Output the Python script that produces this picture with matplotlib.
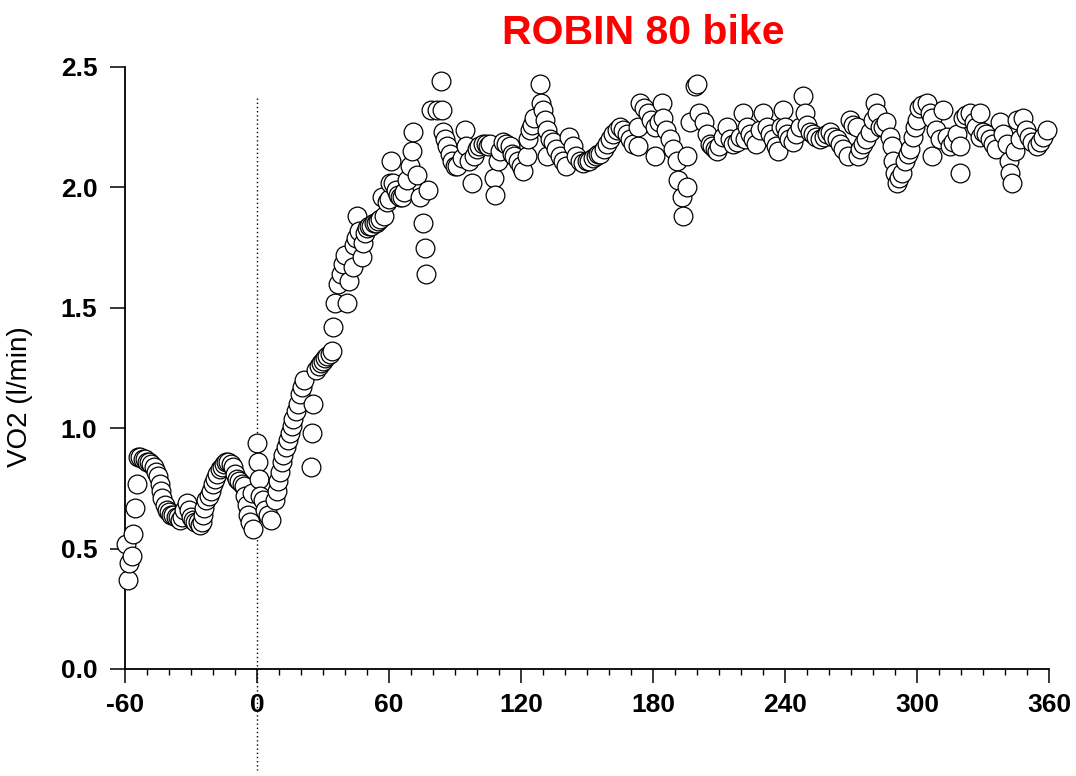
import matplotlib
matplotlib.use('Agg')
import matplotlib.pyplot as plt
from matplotlib.ticker import MultipleLocator

plt.rcParams['font.family'] = ['Liberation Sans', 'DejaVu Sans']
plt.rcParams['axes.unicode_minus'] = False

# breath data: time relative to work onset (s) and VO2 (l/min)
time_s = [
    -59.5, -58.5, -58, -57, -56.5, -55.5, -54.5,
    -54, -53, -52, -51, -50, -49, -48, -47, -46, -45, -44, -43.5, -43, -42,
    -41, -40, -39, -38, -37, -36, -35, -34, -33, -32, -31, -30, -29, -28,
    -27, -26, -25, -24.5, -24, -23, -22, -21, -20, -19, -18, -17, -16, -15,
    -14, -13, -12, -11, -10, -9, -8, -7, -6,
    -5.5, -4.5, -4, -3, -2, -2.3,
    0, 0.3, 0.8, 1.4, 2.5, 3.6, 5, 6.5,
    8, 9, 9.5, 10.5, 11.5, 12, 13, 14, 15, 16, 16.5, 17.5, 18.5, 19.5, 20.5,
    21.5, 24.5, 25, 25.5, 27, 28, 29, 30, 31, 32, 33, 34,
    34.5, 35.5, 37, 38, 39, 40, 41, 42, 43.5, 44, 45, 45.5, 46.5, 47.5, 48,
    49, 50, 51, 52, 53, 54, 55, 56, 56.8, 57.5, 59, 60, 60.5, 61, 62, 63, 64,
    65, 66, 67, 68, 69.5, 70.5, 71, 72.5, 74, 75.5, 76.4, 77, 77.7, 79, 82,
    83.5,
    84, 84.5, 85.5, 86.5, 87.5, 88.5, 90, 91, 93, 94.5, 95, 96.5, 97.7, 98.5,
    100, 101, 102.7, 104, 105, 106, 107.5, 108, 109.5, 110.5, 111.8, 113, 115,
    116, 117, 118.5, 120, 121, 122.7, 123, 124, 125, 126, 128.6, 129, 130,
    131, 131.8, 132, 133, 134.5, 136, 137.5, 139, 140.5, 142, 143.6, 145,
    146.8, 148, 150, 151, 152.7, 154, 155, 156, 157.5, 159,
    160.5, 162, 163.5, 165, 166.5, 168, 169.5, 171, 173, 173, 174, 176, 177.7,
    179, 181, 181, 182.5, 184, 184.5, 186, 187.7, 189, 191, 191.4, 193, 193.6,
    195.5, 195.5, 197, 199, 200, 201, 203, 204.5, 206, 207, 208, 209, 210,
    212, 213.6, 215, 216.4, 218, 219.5, 221, 222, 222.7, 224, 225.5, 227,
    228.5, 230, 231.8, 233, 234.5, 236, 237, 238, 239, 240, 241, 242, 243.5,
    245, 247, 248, 249, 250, 251.5, 252.7, 254, 256, 257.5, 259, 260.5, 262,
    263.6, 265, 266.4, 268.6, 269.5, 271, 272.7, 273, 274, 275.5, 277, 278.5,
    280, 281, 282, 283, 284.5, 286, 287.7, 288.6, 289, 290, 291, 292, 293,
    294.5, 296, 297, 298, 299, 300, 301, 302.5, 304.5, 306, 307, 307, 308.5,
    310.5, 312, 313.5, 315, 316.5, 318, 319.5, 319.5, 321, 322.5, 324, 326,
    327, 328.6, 328.6, 330, 331.5, 333, 334.5, 336, 337.7, 339, 341, 342,
    342.5, 343, 344.5, 345.5, 347, 348, 349.5, 351, 352.5, 354.5, 356, 357.5,
    359,
]
vo2 = [
    0.52, 0.37, 0.44, 0.47, 0.56, 0.67, 0.77,
    0.88, 0.88, 0.87, 0.87, 0.86, 0.86, 0.85, 0.84, 0.82, 0.80, 0.77, 0.74, 0.71, 0.68,
    0.66, 0.65, 0.64, 0.64, 0.63, 0.63, 0.62, 0.63, 0.66, 0.69, 0.66, 0.63, 0.62, 0.61,
    0.61, 0.60, 0.61, 0.64, 0.67, 0.70, 0.72, 0.74, 0.77, 0.79, 0.81, 0.83, 0.84, 0.85,
    0.86, 0.86, 0.85, 0.84, 0.81, 0.79, 0.78, 0.77, 0.76,
    0.72, 0.68, 0.64, 0.61, 0.58, 0.73,
    0.94, 0.86, 0.79, 0.72, 0.70, 0.66, 0.64, 0.62,
    0.70, 0.74, 0.78, 0.82, 0.86, 0.89, 0.92, 0.95, 0.98, 1.01, 1.04, 1.07, 1.10, 1.14, 1.17,
    1.20, 0.84, 0.98, 1.10, 1.24, 1.26, 1.27, 1.28, 1.29, 1.30, 1.31, 1.32,
    1.42, 1.52, 1.60, 1.64, 1.68, 1.72, 1.52, 1.61, 1.67, 1.76, 1.79, 1.88, 1.82, 1.71, 1.77,
    1.81, 1.83, 1.84, 1.84, 1.85, 1.85, 1.86, 1.87, 1.96, 1.88, 1.94, 1.95, 2.02, 2.11, 2.02, 1.99, 1.97,
    1.96, 1.96, 1.98, 2.03, 2.09, 2.15, 2.23, 2.05, 1.96, 1.85, 1.75, 1.64, 1.99, 2.32, 2.32,
    2.44,
    2.32, 2.23, 2.20, 2.17, 2.14, 2.11, 2.09, 2.09, 2.12, 2.24, 2.17, 2.11, 2.02, 2.13,
    2.16, 2.17, 2.18, 2.18, 2.17, 2.18, 2.04, 1.97, 2.11, 2.15, 2.19, 2.18, 2.17,
    2.14, 2.13, 2.11, 2.09, 2.07, 2.13, 2.20, 2.24, 2.26, 2.29, 2.43, 2.35, 2.32,
    2.28, 2.24, 2.13, 2.20, 2.19, 2.16, 2.13, 2.11, 2.09, 2.21, 2.17, 2.13,
    2.11, 2.10, 2.11, 2.11, 2.12, 2.13, 2.14, 2.14, 2.16, 2.18,
    2.20, 2.22, 2.24, 2.25, 2.24, 2.22, 2.20, 2.18, 2.17, 2.25, 2.35, 2.33, 2.31,
    2.28, 2.25, 2.13, 2.27, 2.35, 2.29, 2.24, 2.20, 2.16, 2.11, 2.03, 1.96, 1.88,
    2.00, 2.13, 2.27, 2.42, 2.43, 2.31, 2.27, 2.22, 2.18, 2.17, 2.16, 2.15, 2.17,
    2.21, 2.25, 2.20, 2.18, 2.19, 2.21, 2.31, 2.20, 2.25, 2.22, 2.20, 2.18,
    2.24, 2.31, 2.25, 2.22, 2.20, 2.17, 2.15, 2.25, 2.32, 2.25, 2.22, 2.20, 2.19,
    2.22, 2.25, 2.38, 2.31, 2.26, 2.23, 2.22, 2.21, 2.20, 2.21, 2.22, 2.23, 2.21,
    2.20, 2.18, 2.16, 2.13, 2.28, 2.26, 2.25, 2.13, 2.16, 2.18, 2.20, 2.23,
    2.28, 2.35, 2.31, 2.25, 2.25, 2.27, 2.21, 2.17, 2.11, 2.06, 2.02, 2.04, 2.06,
    2.11, 2.14, 2.16, 2.21, 2.25, 2.28, 2.33, 2.34, 2.35, 2.31, 2.29, 2.13, 2.24,
    2.20, 2.32, 2.21, 2.17, 2.19, 2.22, 2.17, 2.06, 2.29, 2.30, 2.31, 2.27,
    2.25, 2.31, 2.21, 2.23, 2.22, 2.20, 2.18, 2.16, 2.27, 2.22, 2.18, 2.11,
    2.06, 2.02, 2.15, 2.28, 2.20, 2.29, 2.24, 2.21, 2.19, 2.17, 2.19, 2.21,
    2.24,
]

x_ticks = [-60, 0, 60, 120, 180, 240, 300, 360]
y_ticks = [0.0, 0.5, 1.0, 1.5, 2.0, 2.5]
onset_time = 0

fig = plt.figure(figsize=(10.76, 7.76), dpi=100)
ax = fig.add_axes([0.1162, 0.1379, 0.8587, 0.7758])

ax.plot(time_s, vo2, linestyle='none', marker='o', markersize=13.5,
        markerfacecolor='white', markeredgecolor='black', markeredgewidth=0.9,
        clip_on=False, zorder=3)

# onset marker, runs down past the x axis
ax.plot([onset_time, onset_time], [2.37, -0.42], color='black', linestyle=(0, (1, 2)),
        linewidth=1.0, clip_on=False, zorder=1)

ax.set_xlim(-60, 360)
ax.set_ylim(0, 2.5)
ax.set_xticks(x_ticks)
ax.set_yticks(y_ticks)
ax.set_yticklabels([f'{v:.1f}' for v in y_ticks])
ax.xaxis.set_minor_locator(MultipleLocator(10))

for side in ['top', 'right']:
    ax.spines[side].set_visible(False)
for side in ['left', 'bottom']:
    ax.spines[side].set_linewidth(1.3)

ax.tick_params(axis='x', which='major', direction='out', length=10, width=1.1,
               pad=7, labelsize=19)
ax.tick_params(axis='x', which='minor', direction='out', length=4.5, width=1.0)
ax.tick_params(axis='y', which='major', direction='out', length=11, width=1.1,
               pad=9, labelsize=19)
for lab in ax.get_xticklabels() + ax.get_yticklabels():
    lab.set_fontweight('bold')

ax.set_ylabel('VO2 (l/min)', fontsize=20)
ax.yaxis.set_label_coords(-0.0996, 0.452)

fig.text(643 / 1076, 1 - 33 / 776, 'ROBIN 80 bike', color='#ff0000',
         fontsize=29.5, fontweight='bold', ha='center', va='center')

fig.savefig('out.png', dpi=100)
